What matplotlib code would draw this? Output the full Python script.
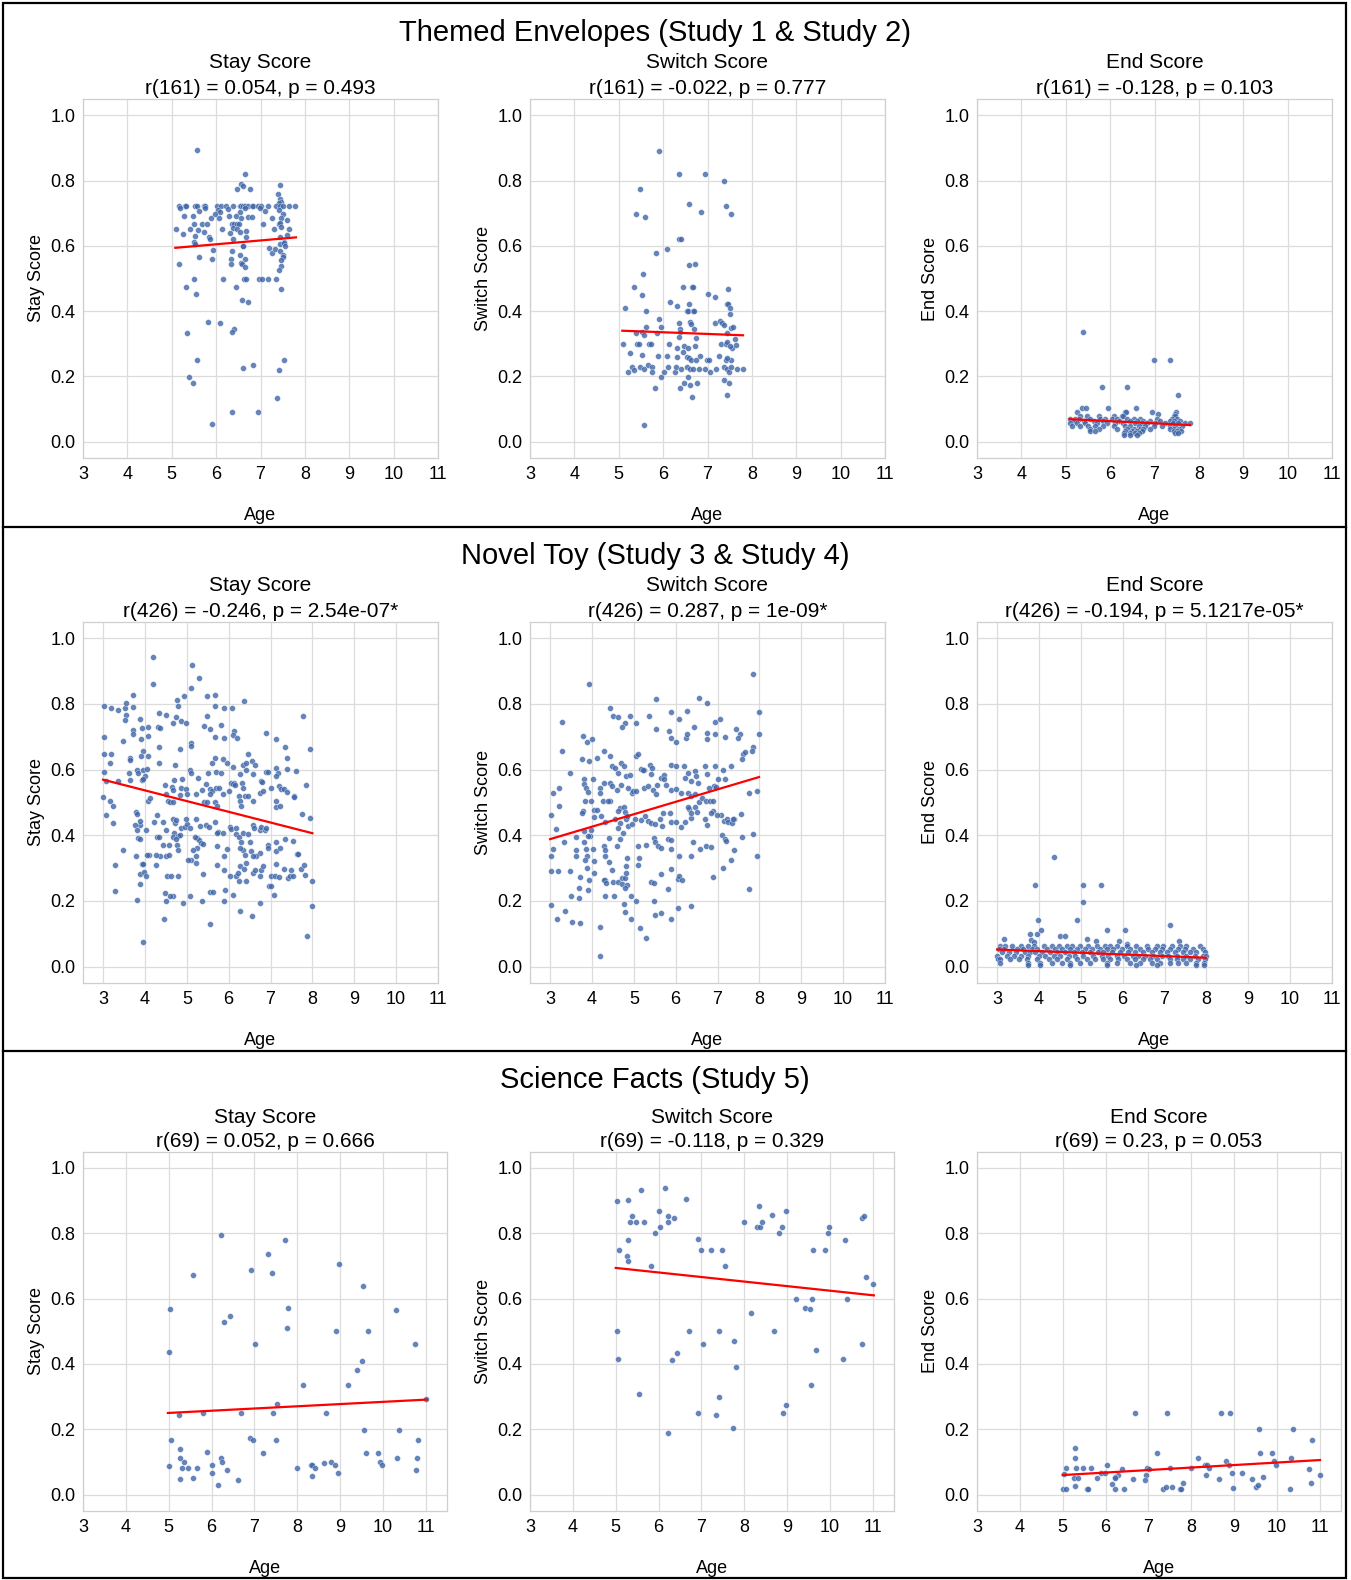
import matplotlib
matplotlib.use("Agg")
import matplotlib.pyplot as plt
from matplotlib import font_manager
from matplotlib.lines import Line2D
from matplotlib.patches import Rectangle

# ---------------- data ----------------
row_titles = ["Themed Envelopes (Study 1 & Study 2)",
              "Novel Toy (Study 3 & Study 4)",
              "Science Facts (Study 5)"]
score_names = ["Stay Score", "Switch Score", "End Score"]
stats = [["r(161) = 0.054, p = 0.493", "r(161) = -0.022, p = 0.777", "r(161) = -0.128, p = 0.103"],
         ["r(426) = -0.246, p = 2.54e-07*", "r(426) = 0.287, p = 1e-09*", "r(426) = -0.194, p = 5.1217e-05*"],
         ["r(69) = 0.052, p = 0.666", "r(69) = -0.118, p = 0.329", "r(69) = 0.23, p = 0.053"]]
x_ticks = [3, 4, 5, 6, 7, 8, 9, 10, 11]
y_ticks = [0.0, 0.2, 0.4, 0.6, 0.8, 1.0]

env_stay = [
    (5.56,0.893),(6.64,0.819),(6.56,0.789),(6.61,0.784),(6.46,0.773),(6.77,0.773),(7.44,0.786),(7.39,0.760),
    (7.44,0.744),(7.46,0.735),(7.42,0.730),
    (5.17,0.722),(5.29,0.722),(5.32,0.722),(5.52,0.722),(5.56,0.722),(5.72,0.722),(5.74,0.722),(6.01,0.722),
    (6.12,0.722),(6.23,0.722),(6.38,0.722),(6.53,0.722),(6.57,0.722),(6.61,0.722),(6.65,0.722),(6.72,0.722),
    (6.80,0.722),(6.83,0.722),(6.95,0.722),(7.02,0.722),(7.17,0.722),(7.36,0.722),(7.44,0.722),(7.51,0.722),
    (7.65,0.722),(7.78,0.722),
    (5.18,0.715),(5.62,0.706),(5.74,0.715),(6.05,0.709),(6.08,0.704),(6.27,0.712),(6.53,0.704),(6.66,0.715),
    (6.98,0.715),(7.10,0.706),(7.42,0.709),(7.51,0.699),
    (5.28,0.692),(5.47,0.692),(5.89,0.686),(5.97,0.699),(6.07,0.686),(6.29,0.692),(6.44,0.691),(6.56,0.686),
    (6.72,0.687),(6.81,0.687),(7.27,0.686),(7.47,0.686),(7.59,0.679),
    (5.51,0.667),(5.68,0.667),(5.80,0.667),(6.35,0.667),(6.40,0.667),(6.46,0.667),(6.52,0.667),(7.06,0.667),
    (7.42,0.667),(7.45,0.669),
    (5.09,0.651),(5.41,0.651),(5.59,0.648),(6.14,0.651),(6.38,0.656),(6.48,0.653),(6.67,0.646),(7.31,0.651),
    (7.65,0.651),(7.47,0.659),
    (5.26,0.636),(5.53,0.630),(5.72,0.641),(5.84,0.626),(5.86,0.622),(6.32,0.640),(6.38,0.621),(6.53,0.643),
    (6.68,0.626),(7.60,0.633),(7.44,0.626),(7.53,0.613),
    (5.50,0.613),(5.52,0.606),(6.61,0.600),(6.61,0.599),(7.45,0.606),(7.53,0.608),(7.56,0.600),
    (5.93,0.587),(6.36,0.584),(6.53,0.571),(7.19,0.592),(7.27,0.579),(7.32,0.589),(7.44,0.585),(7.51,0.572),
    (7.50,0.567),
    (5.61,0.566),(5.90,0.561),(6.33,0.561),(6.66,0.559),(5.16,0.545),(6.34,0.545),(6.56,0.548),(6.59,0.543),
    (6.66,0.534),(7.47,0.557),(7.46,0.539),(7.42,0.526),
    (5.51,0.500),(6.16,0.500),(6.63,0.500),(6.67,0.500),(6.96,0.500),(7.03,0.500),(7.17,0.500),(7.35,0.500),
    (5.33,0.474),(5.55,0.454),(6.44,0.474),(7.46,0.469),(6.59,0.433),(6.71,0.428),
    (5.82,0.368),(6.08,0.364),(6.40,0.346),(6.36,0.335),(5.35,0.334),
    (5.58,0.249),(6.60,0.226),(6.84,0.234),(7.53,0.249),(7.41,0.221),
    (5.38,0.199),(5.48,0.180),(7.37,0.133),(6.35,0.091),(6.95,0.091),(5.90,0.055)]

env_switch = [
    (5.91,0.890),(6.35,0.819),(6.95,0.819),(7.38,0.800),(5.49,0.773),(6.59,0.727),(6.86,0.705),(7.41,0.723),
    (7.54,0.699),(5.39,0.699),(5.59,0.688),
    (6.35,0.620),(6.40,0.621),(5.83,0.579),(6.08,0.591),(6.59,0.541),(6.71,0.543),(5.54,0.515),(5.34,0.474),
    (6.44,0.474),(6.66,0.473),(6.68,0.473),(7.47,0.469),(5.53,0.449),(7.02,0.454),(7.17,0.444),(6.15,0.428),
    (6.32,0.417),(6.59,0.423),(7.44,0.423),(7.47,0.422),(5.15,0.409),(5.62,0.401),(6.53,0.401),(6.57,0.401),
    (6.67,0.401),(6.69,0.401),(7.50,0.410),(7.51,0.392),
    (5.91,0.375),(6.35,0.364),(6.60,0.366),(6.62,0.361),(7.17,0.364),(7.29,0.369),(7.33,0.364),(7.37,0.357),
    (5.62,0.350),(5.95,0.352),(6.38,0.344),(6.70,0.344),(7.53,0.349),(7.58,0.351),
    (5.38,0.334),(5.52,0.335),(5.58,0.327),(5.86,0.334),(6.38,0.335),(7.44,0.334),(6.35,0.320),(6.74,0.317),
    (7.61,0.316),
    (5.10,0.300),(5.41,0.300),(5.46,0.300),(5.68,0.300),(5.73,0.300),(6.14,0.300),(6.31,0.286),(6.46,0.292),
    (6.56,0.286),(6.72,0.292),(7.30,0.300),(7.41,0.300),(7.45,0.304),(7.55,0.286),(7.64,0.297),(7.50,0.292),
    (5.26,0.271),(5.53,0.265),(5.89,0.263),(6.09,0.263),(6.32,0.258),(6.45,0.274),(6.53,0.261),(6.58,0.256),
    (6.62,0.249),(6.83,0.263),(6.75,0.249),(6.98,0.249),(7.04,0.249),(7.26,0.263),(7.41,0.251),(7.52,0.250),
    (7.44,0.256),
    (5.20,0.215),(5.29,0.230),(5.34,0.220),(5.47,0.230),(5.56,0.222),(5.65,0.234),(5.74,0.230),(5.76,0.215),
    (6.03,0.215),(6.11,0.230),(6.26,0.215),(6.29,0.230),(6.41,0.222),(6.53,0.230),(6.61,0.222),(6.68,0.222),
    (6.81,0.222),(6.95,0.222),(7.05,0.215),(7.19,0.222),(7.37,0.230),(7.43,0.222),(7.49,0.215),(7.53,0.230),
    (7.66,0.222),(7.79,0.222),
    (5.95,0.199),(6.56,0.199),(7.38,0.190),(7.49,0.180),(5.82,0.166),(6.38,0.166),(6.47,0.180),(6.60,0.173),
    (6.77,0.180),(7.44,0.142),(6.66,0.138),(5.57,0.052)]

env_end = [
    (5.38,0.336),(6.98,0.251),(7.34,0.251),(5.82,0.167),(6.39,0.167),(7.52,0.142),
    (5.37,0.102),(5.46,0.102),(5.96,0.102),(6.58,0.102),(5.26,0.092),(6.34,0.092),(6.36,0.092),(6.95,0.092),
    (7.07,0.084),(7.48,0.092),(7.46,0.084),
    (5.33,0.079),(5.49,0.079),(5.76,0.079),(6.08,0.079),(6.26,0.079),(6.30,0.079),(7.43,0.079),(7.46,0.079),
    (5.10,0.070),(5.21,0.070),(5.29,0.070),(5.54,0.070),(5.78,0.070),(5.89,0.070),(6.04,0.070),(6.15,0.070),
    (6.38,0.070),(6.53,0.070),(6.68,0.070),(7.05,0.070),(7.39,0.070),(7.50,0.070),
    (5.18,0.063),(5.40,0.063),(5.63,0.063),(5.85,0.063),(6.19,0.063),(6.45,0.063),(6.60,0.063),(6.75,0.063),
    (6.90,0.063),(7.13,0.063),(7.35,0.063),(7.44,0.063),(7.58,0.063),
    (5.09,0.056),(5.25,0.056),(5.44,0.056),(5.70,0.056),(5.93,0.056),(6.11,0.056),(6.30,0.056),(6.56,0.056),
    (6.71,0.056),(6.83,0.056),(7.01,0.056),(7.24,0.056),(7.41,0.056),(7.54,0.056),(7.69,0.056),(7.80,0.056),
    (5.14,0.048),(5.33,0.048),(5.51,0.048),(5.66,0.048),(5.85,0.048),(6.08,0.048),(6.34,0.048),(6.45,0.048),
    (6.64,0.048),(6.79,0.048),(6.98,0.048),(7.16,0.048),(7.35,0.048),(7.46,0.048),(7.61,0.048),
    (5.55,0.040),(5.74,0.040),(6.15,0.040),(6.38,0.040),(6.53,0.040),(6.68,0.040),(6.75,0.040),(6.90,0.040),
    (7.35,0.040),(7.44,0.040),(7.56,0.040),
    (5.55,0.033),(5.66,0.033),(6.34,0.033),(6.49,0.033),(6.60,0.033),(6.71,0.033),(7.43,0.033),(7.50,0.033),
    (7.59,0.033),
    (6.32,0.026),(6.44,0.026),(6.56,0.026),(6.64,0.026),(7.46,0.026),(7.52,0.026),
    (6.32,0.019),(6.45,0.019),(6.60,0.019)]

toy_stay = [
    (4.19,0.944),(5.13,0.919),(5.29,0.878),(4.19,0.860),(5.09,0.847),(3.72,0.826),(5.48,0.823),(5.67,0.826),
    (4.77,0.813),(4.93,0.823),(6.37,0.809),
    (3.02,0.792),(3.18,0.788),(3.36,0.780),(3.53,0.786),(3.55,0.802),(3.72,0.790),(4.78,0.792),(5.67,0.792),
    (5.90,0.788),(6.08,0.786),
    (3.54,0.766),(3.53,0.752),(4.33,0.772),(4.51,0.765),(4.74,0.761),(4.85,0.748),(4.97,0.741),(4.67,0.741),
    (3.89,0.753),(5.49,0.763),(5.40,0.732),(5.55,0.722),(5.81,0.736),(7.77,0.763),(4.31,0.729),(4.35,0.727),
    (4.07,0.729),(3.92,0.727),
    (3.72,0.719),(3.72,0.707),(3.48,0.687),(4.07,0.703),(3.90,0.692),(3.02,0.699),(4.33,0.669),(5.67,0.699),
    (5.90,0.696),(6.13,0.717),(6.10,0.704),(6.21,0.697),(6.88,0.710),(7.14,0.694),(7.34,0.668),(7.94,0.661),
    (5.11,0.682),(5.11,0.671),(4.83,0.663),
    (3.96,0.655),(3.90,0.641),(3.64,0.636),(3.64,0.629),(3.18,0.646),(3.02,0.646),(3.16,0.621),(4.07,0.641),
    (4.34,0.621),(4.71,0.613),
    (5.67,0.636),(5.59,0.621),(5.87,0.631),(5.95,0.619),(6.10,0.608),(6.34,0.613),(6.42,0.619),(6.47,0.646),
    (6.56,0.626),(6.64,0.613),(6.90,0.593),(7.14,0.606),(7.18,0.588),(7.14,0.580),(7.39,0.634),(7.40,0.603),
    (7.60,0.596),
    (3.02,0.592),(3.06,0.565),(3.36,0.565),(3.62,0.590),(3.64,0.568),(3.80,0.600),(3.84,0.588),(3.96,0.600),
    (4.04,0.602),(4.00,0.580),(3.92,0.568),(3.96,0.572),
    (5.07,0.600),(5.09,0.588),(4.89,0.572),(5.27,0.573),(5.51,0.588),(5.69,0.592),(5.81,0.588),(6.06,0.560),
    (6.12,0.558),(6.26,0.585),(6.42,0.598),(6.32,0.560),(6.58,0.587),(6.78,0.565),(6.80,0.563),(6.95,0.592),
    (7.20,0.549),(7.26,0.541),(7.31,0.541),(7.39,0.533),(7.55,0.518),(7.85,0.552),(4.69,0.568),
    (4.47,0.554),(4.65,0.546),(4.67,0.539),(4.50,0.526),(4.55,0.504),(4.59,0.502),(4.66,0.500),(4.87,0.544),
    (4.97,0.542),(5.01,0.526),(4.83,0.521),(5.23,0.524),(5.37,0.537),(5.47,0.556),(5.55,0.541),(5.61,0.534),
    (5.56,0.524),(5.69,0.544),(5.77,0.544),(5.87,0.524),(6.01,0.534),(6.11,0.556),(6.14,0.552),(6.25,0.519),
    (6.34,0.544),(6.38,0.519),(6.46,0.519),(6.58,0.504),(6.74,0.529),(6.82,0.534),(7.02,0.544),(7.14,0.504),
    (7.14,0.485),(7.22,0.488),
    (3.00,0.517),(3.16,0.503),(3.24,0.488),(3.06,0.461),(3.24,0.437),(3.48,0.356),(3.28,0.308),(3.28,0.229),
    (4.07,0.504),(4.11,0.512),(4.29,0.463),(4.42,0.441),(4.21,0.440),(4.02,0.415),(3.88,0.432),(3.88,0.443),
    (3.78,0.471),(3.80,0.466),(3.77,0.430),(3.81,0.415),(3.84,0.392),(3.88,0.387),(3.78,0.338),(3.94,0.313),
    (3.96,0.313),(3.88,0.283),(3.97,0.288),(4.02,0.277),(3.88,0.252),(3.80,0.203),(3.96,0.074),
    (4.29,0.395),(4.42,0.369),(4.50,0.417),(4.58,0.369),(4.66,0.448),(4.71,0.437),(4.75,0.445),(4.70,0.407),
    (4.67,0.395),(4.80,0.397),(4.75,0.387),(4.77,0.369),(4.87,0.422),(4.83,0.402),(4.80,0.356),(4.96,0.425),
    (5.01,0.435),(4.99,0.448),(5.07,0.422),(5.23,0.448),(5.25,0.390),(5.29,0.385),(5.35,0.377),(5.39,0.372),
    (5.25,0.361),(5.15,0.356),(5.11,0.326),(5.03,0.324),(5.23,0.336),(5.23,0.316),
    (5.31,0.427),(5.47,0.430),(5.53,0.424),(5.67,0.441),(5.75,0.410),(5.87,0.407),(5.71,0.407),(5.71,0.366),
    (6.03,0.425),(6.05,0.419),(6.18,0.422),(6.18,0.404),(6.25,0.395),(6.34,0.407),(6.30,0.379),(6.34,0.356),
    (6.26,0.361),(6.38,0.341),(6.52,0.379),(6.46,0.404),(6.58,0.432),(6.61,0.422),(6.74,0.415),(6.78,0.425),
    (6.86,0.417),(6.90,0.422),(6.94,0.369),(6.94,0.361),(7.14,0.378),(7.14,0.353),(7.22,0.361),(7.34,0.388),
    (7.54,0.381),(7.63,0.343),(7.66,0.343),(6.74,0.346),(6.66,0.336),(6.54,0.351),(6.57,0.338),
    (5.95,0.359),(5.73,0.308),(5.89,0.336),(5.88,0.293),(6.02,0.275),(6.18,0.275),(6.22,0.285),(6.25,0.262),
    (6.42,0.262),(6.26,0.305),(6.37,0.298),(6.42,0.315),(6.58,0.285),(6.62,0.295),(6.74,0.275),(6.78,0.293),
    (6.81,0.305),(6.97,0.244),(7.00,0.246),(7.08,0.219),(7.02,0.275),(7.10,0.275),(7.12,0.313),(7.20,0.273),
    (7.31,0.297),(7.42,0.270),(7.47,0.275),(7.50,0.295),(7.54,0.275),(7.72,0.297),(7.81,0.308),(7.83,0.280),
    (7.98,0.262),
    (4.91,0.193),(5.07,0.214),(4.67,0.214),(4.47,0.224),(4.50,0.201),(4.59,0.216),(4.53,0.275),(4.63,0.275),
    (4.79,0.275),(4.51,0.336),(4.58,0.339),(4.27,0.310),(4.35,0.336),(4.34,0.395),(4.27,0.339),(4.10,0.339),
    (4.04,0.339),
    (5.36,0.201),(5.55,0.226),(5.63,0.226),(5.55,0.130),(5.89,0.201),(5.92,0.234),(6.11,0.218),(6.26,0.170),
    (6.56,0.153),(6.74,0.195),(4.46,0.144),
    (5.39,0.283),(5.19,0.394),(5.40,0.500),(5.49,0.500),(5.67,0.500),(5.71,0.490),
    (7.98,0.183),(7.86,0.094),(7.94,0.452),(7.76,0.465),(7.55,0.516),(6.26,0.504),(6.30,0.488)]

toy_switch = [
    (7.85,0.892),(3.93,0.860),(5.54,0.816),(6.55,0.818),(6.74,0.801),
    (4.44,0.788),(4.50,0.764),(4.63,0.761),(4.78,0.741),(4.71,0.730),(4.92,0.763),(5.06,0.741),(3.28,0.745),
    (5.37,0.763),(5.54,0.724),(5.88,0.775),(6.09,0.753),(6.26,0.779),(6.44,0.729),(5.84,0.718),(5.89,0.695),
    (6.01,0.685),(6.24,0.697),(6.28,0.707),
    (6.74,0.712),(6.75,0.692),(6.95,0.745),(7.07,0.753),(7.18,0.700),(6.94,0.707),(7.44,0.724),(7.53,0.707),
    (7.50,0.695),(7.61,0.646),(7.65,0.653),(7.59,0.631),(7.84,0.669),(7.83,0.656),(7.99,0.775),(7.99,0.707),
    (3.78,0.702),(3.89,0.684),(4.00,0.694),(3.28,0.656),(3.76,0.633),(3.92,0.627),(4.12,0.636),(4.28,0.656),
    (3.48,0.590),
    (4.44,0.641),(4.48,0.610),(4.54,0.605),(4.70,0.621),(4.76,0.610),(4.62,0.590),(4.82,0.580),(4.91,0.582),
    (5.06,0.641),(5.09,0.646),(5.16,0.603),(5.24,0.600),(5.38,0.613),(5.43,0.605),(5.40,0.585),(5.65,0.575),
    (5.72,0.583),(5.73,0.570),
    (5.89,0.613),(6.01,0.610),(6.20,0.612),(6.23,0.575),(6.29,0.590),(6.37,0.565),(6.47,0.595),(6.49,0.580),
    (6.53,0.560),(6.69,0.610),(6.95,0.612),(7.14,0.600),(7.01,0.570),(7.17,0.572),(7.33,0.610),(6.75,0.585),
    (6.92,0.551),(6.96,0.547),(6.79,0.544),
    (3.82,0.570),(4.02,0.572),(3.80,0.557),(3.86,0.545),(3.90,0.532),(3.84,0.504),(3.98,0.504),(4.20,0.545),
    (4.20,0.529),(4.27,0.504),(4.42,0.504),(4.42,0.560),(3.06,0.529),(3.22,0.545),(3.22,0.488),(3.02,0.463),
    (3.14,0.419),(3.01,0.338),(3.06,0.358),(3.01,0.290),(3.18,0.290),(3.48,0.290),(3.01,0.186),(3.17,0.145),
    (3.36,0.170),(3.50,0.216),(3.52,0.135),(3.72,0.134),
    (3.78,0.473),(3.76,0.468),(4.06,0.478),(4.12,0.476),(4.04,0.456),(3.98,0.417),(3.95,0.399),(3.90,0.397),
    (3.80,0.380),(3.86,0.358),(4.02,0.358),(3.61,0.394),(3.61,0.338),(3.34,0.380),(3.88,0.336),(3.84,0.324),
    (4.06,0.321),(4.04,0.285),(3.94,0.263),(3.90,0.232),(3.88,0.300),(3.72,0.273),(3.70,0.239),(3.70,0.209),
    (4.28,0.560),(4.48,0.550),(4.60,0.539),(4.70,0.553),(4.95,0.529),(4.97,0.534),(4.85,0.544),(5.06,0.534),
    (5.25,0.544),(5.33,0.549),(5.45,0.537),(5.53,0.524),(5.56,0.554),(5.77,0.554),(5.89,0.539),(6.01,0.541),
    (6.13,0.527),(6.29,0.529),(6.37,0.519),(6.45,0.524),(6.55,0.500),(6.62,0.514),(6.73,0.504),(6.83,0.504),
    (6.89,0.504),(6.89,0.473),(7.09,0.460),(7.15,0.443),(7.22,0.448),(7.26,0.440),(7.39,0.450),(7.55,0.465),
    (7.75,0.527),(7.95,0.534),
    (4.21,0.458),(4.39,0.504),(4.66,0.483),(4.62,0.473),(4.76,0.485),(4.78,0.470),(4.84,0.456),(4.82,0.448),
    (4.68,0.437),(4.86,0.429),(4.63,0.422),(4.75,0.407),(4.95,0.435),(5.04,0.448),(5.17,0.445),(5.35,0.443),
    (5.41,0.436),(5.51,0.433),(5.62,0.448),(5.67,0.429),(5.69,0.468),(5.86,0.468),(5.89,0.440),(6.01,0.440),
    (6.13,0.425),(6.23,0.439),(6.37,0.453),(6.33,0.480),(6.29,0.486),(6.47,0.485),(6.51,0.470),(6.37,0.468),
    (6.69,0.448),(6.75,0.432),(6.85,0.468),(6.99,0.463),(7.10,0.402),(7.17,0.387),(7.21,0.382),(7.34,0.437),
    (7.38,0.450),(7.58,0.395),(7.39,0.356),(7.33,0.324),(7.14,0.300),
    (4.29,0.366),(4.31,0.356),(4.30,0.336),(4.40,0.318),(4.48,0.293),(4.30,0.265),(4.28,0.263),(4.34,0.254),
    (4.50,0.257),(4.32,0.215),(4.52,0.215),(4.62,0.259),(4.72,0.252),(4.71,0.270),(4.78,0.270),(4.84,0.247),
    (4.82,0.285),(4.82,0.305),(4.60,0.366),(4.66,0.387),(4.84,0.330),(4.78,0.239),(4.76,0.191),(4.78,0.166),
    (4.94,0.215),(4.94,0.145),(5.06,0.201),(5.11,0.308),(5.13,0.330),(5.10,0.366),(5.29,0.369),(5.48,0.392),
    (5.51,0.378),(5.57,0.368),(5.65,0.361),(5.81,0.389),(5.88,0.384),(5.89,0.358),(5.89,0.298),(6.07,0.338),
    (6.37,0.338),(6.41,0.379),(6.59,0.359),(6.73,0.368),(6.85,0.364),
    (5.41,0.257),(5.49,0.254),(5.49,0.201),(5.51,0.156),(5.65,0.163),(5.89,0.145),(5.81,0.237),(5.65,0.283),
    (6.05,0.267),(6.09,0.275),(6.15,0.265),(6.37,0.185),(6.05,0.178),(5.14,0.117),(5.28,0.086),(4.19,0.122),
    (4.19,0.033),(6.88,0.272),(7.76,0.237),(7.85,0.404),(7.94,0.338),
    (3.61,0.356),(3.80,0.412),(4.32,0.440),(4.40,0.392),(4.54,0.450),(4.83,0.458),(5.23,0.600),(5.27,0.458)]

toy_end = [
    (4.35,0.333),(3.90,0.248),(5.06,0.248),(5.48,0.248),(5.06,0.198),(3.98,0.142),(4.90,0.142),
    (4.05,0.112),(5.62,0.112),(6.06,0.112),(7.14,0.127),(3.79,0.100),(3.95,0.100),
    (7.35,0.078),(3.16,0.083),(4.51,0.092),(4.63,0.092),(5.14,0.083),(5.37,0.078),(5.91,0.078),(6.10,0.068),
    (3.82,0.080),(3.87,0.076),
    (3.08,0.063),(3.20,0.063),(3.36,0.063),(3.56,0.063),(3.75,0.063),(3.87,0.063),(4.11,0.063),(4.31,0.063),
    (4.47,0.063),(4.67,0.063),(4.79,0.063),(4.98,0.063),(5.18,0.063),(5.38,0.063),(5.58,0.063),(5.70,0.063),
    (5.86,0.063),(6.10,0.063),(6.33,0.063),(6.57,0.063),(6.81,0.063),(6.97,0.063),(7.17,0.063),(7.37,0.063),
    (7.52,0.063),(7.84,0.063),
    (3.04,0.053),(3.16,0.053),(3.48,0.053),(3.63,0.053),(3.83,0.053),(3.95,0.053),(4.19,0.053),(4.39,0.053),
    (4.55,0.053),(4.75,0.053),(4.90,0.053),(5.10,0.053),(5.26,0.053),(5.46,0.053),(5.62,0.053),(5.78,0.053),
    (5.98,0.053),(6.17,0.053),(6.41,0.053),(6.61,0.053),(6.77,0.053),(6.93,0.053),(7.13,0.053),(7.33,0.053),
    (7.48,0.053),(7.68,0.053),(7.92,0.053),
    (3.12,0.043),(3.28,0.043),(3.44,0.043),(3.67,0.043),(3.79,0.043),(3.91,0.043),(4.07,0.043),(4.27,0.043),
    (4.43,0.043),(4.63,0.043),(4.83,0.043),(5.02,0.043),(5.22,0.043),(5.42,0.043),(5.54,0.043),(5.74,0.043),
    (5.94,0.043),(6.13,0.043),(6.29,0.043),(6.49,0.043),(6.69,0.043),(6.89,0.043),(7.05,0.043),(7.25,0.043),
    (7.44,0.043),(7.60,0.043),(7.76,0.043),(7.96,0.043),
    (3.00,0.032),(3.24,0.032),(3.40,0.032),(3.56,0.032),(3.75,0.032),(3.99,0.032),(4.15,0.032),(4.35,0.032),
    (4.51,0.032),(4.71,0.032),(4.87,0.032),(5.06,0.032),(5.30,0.032),(5.50,0.032),(5.66,0.032),(5.86,0.032),
    (6.02,0.032),(6.25,0.032),(6.37,0.032),(6.53,0.032),(6.73,0.032),(6.93,0.032),(7.09,0.032),(7.29,0.032),
    (7.52,0.032),(7.72,0.032),(7.92,0.032),(7.98,0.032),
    (3.02,0.022),(3.06,0.022),(3.32,0.022),(3.52,0.022),(3.71,0.022),(3.95,0.022),(4.23,0.022),(4.43,0.022),
    (4.67,0.022),(4.90,0.022),(5.14,0.022),(5.34,0.022),(5.54,0.022),(5.70,0.022),(5.90,0.022),(6.10,0.022),
    (6.29,0.022),(6.49,0.022),(6.65,0.022),(6.81,0.022),(7.13,0.022),(7.29,0.022),(7.44,0.022),(7.60,0.022),
    (7.80,0.022),(7.96,0.022),
    (3.08,0.012),(3.75,0.012),(4.03,0.012),(4.31,0.012),(4.55,0.012),(4.75,0.012),(4.98,0.012),(5.22,0.012),
    (5.62,0.012),(5.86,0.012),(6.17,0.012),(6.41,0.012),(6.69,0.012),(6.89,0.012),(7.13,0.012),(7.33,0.012),
    (7.52,0.012),(7.76,0.012),(7.94,0.012),
    (3.75,0.005),(4.03,0.005),(4.75,0.005),(5.62,0.005),(6.33,0.005),(6.81,0.005),(7.76,0.005),(7.94,0.005)]

sci_stay = [
    (6.23,0.794),(7.72,0.778),(7.32,0.736),(6.91,0.688),(7.40,0.677),(5.57,0.671),(8.96,0.706),(9.54,0.640),
    (5.04,0.569),(7.79,0.571),(6.44,0.548),(6.30,0.529),(7.75,0.509),(8.89,0.500),(9.65,0.500),(10.29,0.566),
    (10.74,0.460),(5.01,0.438),(7.02,0.460),(9.51,0.409),(9.40,0.381),(8.14,0.335),(9.19,0.335),(7.53,0.276),
    (11.00,0.293),(5.25,0.243),(5.81,0.249),(6.68,0.249),(7.42,0.249),(8.67,0.249),(9.55,0.198),(10.38,0.198),
    (5.05,0.166),(6.89,0.173),(6.96,0.166),(7.49,0.166),(10.82,0.166),(5.26,0.141),(5.89,0.132),(7.21,0.126),
    (9.59,0.126),(9.89,0.126),(5.26,0.112),(5.36,0.100),(6.21,0.112),(6.24,0.100),(6.02,0.091),(10.33,0.112),
    (10.80,0.112),(9.93,0.100),(9.98,0.091),(5.00,0.087),(5.32,0.081),(5.46,0.081),(5.65,0.081),(6.35,0.077),
    (7.98,0.081),(8.32,0.091),(8.35,0.091),(8.42,0.081),(8.63,0.096),(8.79,0.100),(8.88,0.091),(6.00,0.065),
    (10.76,0.077),(5.26,0.049),(5.57,0.052),(6.62,0.046),(6.14,0.031),(8.33,0.058),(8.95,0.065)]

sci_switch = [
    (6.14,0.938),(5.58,0.932),(5.02,0.898),(5.28,0.902),(6.63,0.906),(6.02,0.867),(5.37,0.852),(5.33,0.835),
    (5.47,0.835),(5.66,0.835),(6.23,0.852),(6.21,0.835),(6.37,0.846),(6.04,0.818),(5.91,0.800),(5.28,0.778),
    (5.07,0.750),(5.26,0.730),(5.29,0.715),(5.82,0.700),(6.91,0.784),(6.98,0.750),(7.23,0.750),(7.48,0.750),
    (7.54,0.700),(8.00,0.835),(8.35,0.883),(8.30,0.818),(8.36,0.818),(8.42,0.835),(8.64,0.857),(8.96,0.867),
    (8.81,0.800),(8.88,0.818),(9.59,0.750),(9.89,0.750),(9.94,0.800),(9.97,0.818),(10.34,0.778),(10.74,0.846),
    (10.80,0.854),(10.83,0.667),(11.01,0.646),(9.20,0.600),(9.57,0.600),(10.39,0.600),(9.41,0.571),(9.52,0.569),
    (8.15,0.555),(5.02,0.500),(6.70,0.500),(7.41,0.500),(8.68,0.500),(7.03,0.461),(7.76,0.471),(9.66,0.444),
    (10.74,0.461),(5.05,0.415),(6.31,0.412),(6.44,0.434),(10.30,0.415),(7.80,0.392),(9.55,0.335),(5.55,0.309),
    (7.40,0.300),(8.96,0.274),(8.90,0.249),(6.92,0.249),(7.33,0.244),(7.73,0.203),(6.23,0.189)]

sci_end = [
    (6.68,0.250),(7.43,0.250),(8.68,0.250),(8.89,0.250),(9.58,0.200),(10.38,0.200),(10.82,0.167),(5.28,0.142),
    (5.28,0.113),(7.21,0.127),(9.59,0.127),(9.89,0.127),(8.16,0.113),(8.80,0.102),(10.32,0.113),(9.93,0.102),
    (9.97,0.092),(8.31,0.092),(8.36,0.092),(8.41,0.083),(8.87,0.092),
    (5.08,0.083),(5.32,0.083),(5.47,0.083),(5.66,0.083),(6.04,0.092),(6.97,0.083),(7.02,0.080),(7.49,0.083),
    (7.99,0.083),(6.38,0.078),(5.90,0.067),(5.99,0.067),(5.03,0.062),(8.94,0.067),(9.19,0.067),(10.74,0.078),
    (8.35,0.059),(9.66,0.055),(11.00,0.059),(6.30,0.060),(6.23,0.054),(6.21,0.050),(6.94,0.061),
    (5.27,0.050),(5.35,0.050),(5.81,0.050),(6.63,0.048),(6.91,0.044),(8.65,0.048),(9.42,0.048),
    (6.15,0.032),(7.81,0.037),(5.28,0.027),(10.79,0.037),
    (5.00,0.018),(5.07,0.018),(5.56,0.018),(5.58,0.018),(6.23,0.018),(6.44,0.018),(7.33,0.018),(7.41,0.024),
    (7.54,0.024),(7.73,0.018),(7.75,0.018),(8.96,0.020),(9.51,0.023),(9.56,0.029),(10.31,0.018)]

# fitted regression lines (end points)
env_fits = [([5.08, 7.80], [0.594, 0.626]), ([5.08, 7.80], [0.340, 0.326]), ([5.09, 7.80], [0.069, 0.051])]
toy_fits = [([3.00, 8.00], [0.569, 0.406]), ([3.00, 7.99], [0.388, 0.577]), ([3.00, 7.98], [0.052, 0.027])]
sci_fits = [([4.98, 11.02], [0.250, 0.291]), ([5.00, 11.02], [0.694, 0.610]), ([5.00, 11.00], [0.060, 0.106])]

row_data = [[env_stay, env_switch, env_end],
            [toy_stay, toy_switch, toy_end],
            [sci_stay, sci_switch, sci_end]]
row_fits = [env_fits, toy_fits, sci_fits]

# ---------------- styling / layout ----------------
names = {f.name for f in font_manager.fontManager.ttflist}
fams = [f for f in ["Liberation Sans", "DejaVu Sans"] if f in names]
plt.rcParams["font.family"] = fams

W, H = 1351, 1580
fig = plt.figure(figsize=(W / 100, H / 100), dpi=100)

def fx(px):
    return px / W

def fy(py):
    return 1 - py / H

rows_geo = [
    dict(top=99, bottom=458, width=355, xlim=(3.0, 11.0), tb=41, s1=68.5, s2=94.5),
    dict(top=621.7, bottom=983, width=355, xlim=(2.52, 11.0), tb=564, s1=591, s2=617),
    dict(top=1151.6, bottom=1511, width=364, xlim=(3.0, 11.49), tb=1088, s1=1123, s2=1147),
]
col_left = [83, 530, 977]
title_x = 655
point_color = "#3f66a8"

for r, geo in enumerate(rows_geo):
    fig.text(fx(title_x), fy(geo["tb"]), row_titles[r], ha="center", va="baseline", fontsize=21)
    for c in range(3):
        left = col_left[c]
        ax = fig.add_axes([fx(left), fy(geo["bottom"]), fx(geo["width"]),
                           (geo["bottom"] - geo["top"]) / H])
        ax.set_xlim(*geo["xlim"])
        ax.set_ylim(-0.05, 1.05)
        ax.set_xticks(x_ticks)
        ax.set_xticklabels([str(t) for t in x_ticks])
        ax.set_yticks(y_ticks)
        ax.set_yticklabels([f"{t:.1f}" for t in y_ticks])
        ax.grid(True, color="#dcdcdc", lw=0.9)
        ax.set_axisbelow(True)
        for s in ax.spines.values():
            s.set_color("#cfcfcf")
            s.set_linewidth(0.9)
        ax.tick_params(length=0, labelsize=13, pad=5.5)
        pts = row_data[r][c]
        xs = [p[0] for p in pts]
        ys = [p[1] for p in pts]
        ax.scatter(xs, ys, s=18, color=point_color, alpha=0.8, edgecolors="white",
                   linewidths=0.3, zorder=3)
        fx_line, fy_line = row_fits[r][c]
        ax.plot(fx_line, fy_line, color="red", lw=1.6, zorder=4)
        ax.set_xlabel("Age", fontsize=13)
        ax.xaxis.set_label_coords(0.5, -(519.5 - 458) / 359)
        ax.xaxis.label.set_va("baseline")
        ax.set_ylabel(score_names[c], fontsize=13)
        ax.yaxis.set_label_coords(-46.5 / geo["width"], 0.5)
        ax.yaxis.label.set_va("center")
        cx = left + geo["width"] / 2
        fig.text(fx(cx), fy(geo["s1"]), score_names[c], ha="center", va="baseline", fontsize=15)
        fig.text(fx(cx), fy(geo["s2"]), stats[r][c], ha="center", va="baseline", fontsize=15)

# frame and separators
fig.add_artist(Rectangle((fx(3.3), fy(1577.5)), fx(1346 - 3.3), (1577.5 - 3.3) / H,
                         transform=fig.transFigure, fill=False, edgecolor="black", lw=1.6))
for yy in (527.3, 1050.7):
    fig.add_artist(Line2D([fx(3.3), fx(1346)], [fy(yy), fy(yy)], transform=fig.transFigure,
                          color="black", lw=1.6))

fig.savefig("out.png", dpi=100)
